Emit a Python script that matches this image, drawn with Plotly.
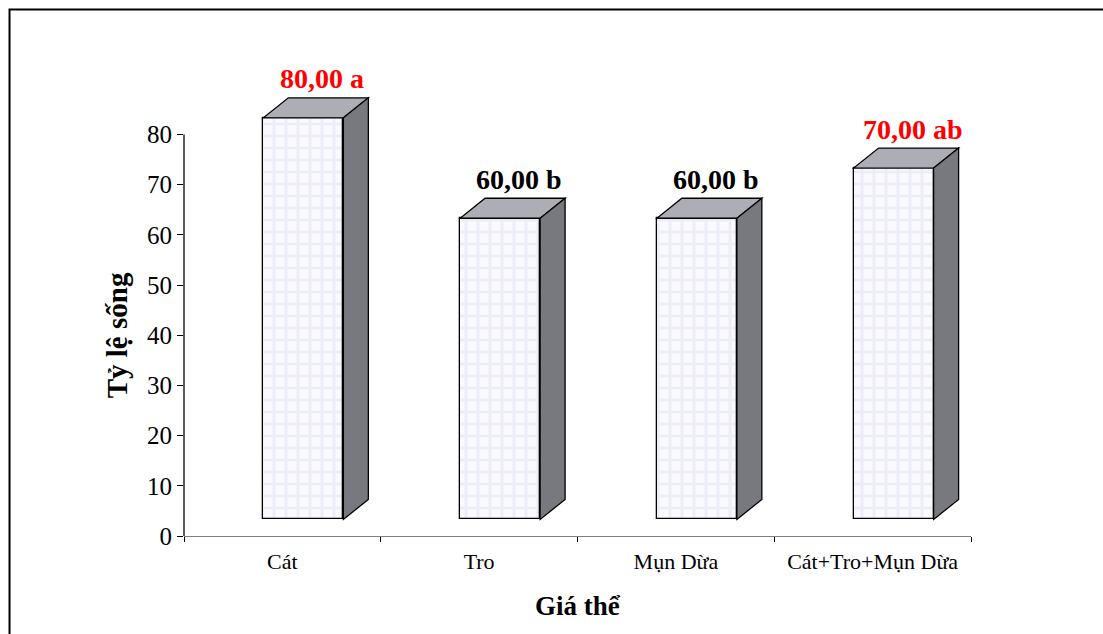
import plotly.graph_objects as go

# Survival rate by growing medium
categories = ["Cát", "Tro", "Mụn Dừa", "Cát+Tro+Mụn Dừa"]
values = [80.0, 60.0, 60.0, 70.0]
letters = ["a", "b", "b", "ab"]
label_colors = ["#ff0000", "#000000", "#000000", "#ff0000"]
y_ticks = [0, 10, 20, 30, 40, 50, 60, 70, 80]

# 3D column geometry (category units / value units)
BASE = 3.3          # front face lifted above the floor
BAR_W = 0.4066      # front face width
BAR_OFF = -0.0966   # front face left edge relative to category centre
DEPTH_X = 0.127     # depth projection to the right
DEPTH_Y = 3.98      # depth projection upwards

FONT = "Liberation Serif"

fig = go.Figure()

fig.add_trace(go.Bar(
    x=categories,
    y=values,
    base=BASE,
    offset=BAR_OFF,
    width=BAR_W,
    marker=dict(
        color="#f7f7ff",
        line=dict(color="#000000", width=1.3),
        pattern=dict(shape="+", fgcolor="#e2e2f4", bgcolor="#f9f9ff",
                     size=12, solidity=0.45),
    ),
    hoverinfo="skip",
    showlegend=False,
))

shapes = []
annotations = []
for i, (v, lab, col) in enumerate(zip(values, letters, label_colors)):
    xl = i + BAR_OFF
    xr = xl + BAR_W
    top = v + BASE
    # top face
    shapes.append(dict(
        type="path", xref="x", yref="y",
        path=(f"M {xl},{top} L {xr},{top} L {xr + DEPTH_X},{top + DEPTH_Y} "
              f"L {xl + DEPTH_X},{top + DEPTH_Y} Z"),
        fillcolor="#adadb5", line=dict(color="#000000", width=1.3),
    ))
    # side face
    shapes.append(dict(
        type="path", xref="x", yref="y",
        path=(f"M {xr},{BASE} L {xr},{top} L {xr + DEPTH_X},{top + DEPTH_Y} "
              f"L {xr + DEPTH_X},{BASE + DEPTH_Y} Z"),
        fillcolor="#78787f", line=dict(color="#000000", width=1.3),
    ))
    annotations.append(dict(
        x=xl + BAR_W / 2, y=top, xref="x", yref="y",
        text=f"{v:.2f}".replace(".", ",") + f" {lab}",
        showarrow=False, xshift=19, yshift=39, yanchor="middle",
        font=dict(family=FONT, size=28, color=col, weight="bold"),
    ))

# vertical value axis line (stops at the top tick)
shapes.append(dict(type="line", xref="paper", yref="y", x0=0, x1=0, y0=0, y1=80,
                   line=dict(color="#000000", width=1.3)))

# outer chart border
shapes.append(dict(type="rect", xref="paper", yref="paper",
                   x0=-0.2217, x1=1.2, y0=-0.25, y1=1.0488,
                   line=dict(color="#000000", width=2), fillcolor="rgba(0,0,0,0)"))

annotations.append(dict(
    text="Tỷ lệ sống", x=-0.085, y=0.4, xref="paper", yref="paper",
    textangle=-90, showarrow=False, xanchor="center", yanchor="middle",
    font=dict(family=FONT, size=29, color="#000000", weight="bold"),
))
annotations.append(dict(
    text="Giá thể", x=0.5, y=-0.14, xref="paper", yref="paper",
    showarrow=False, xanchor="center", yanchor="middle",
    font=dict(family=FONT, size=27, color="#000000", weight="bold"),
))

fig.update_layout(
    width=1103, height=634,
    margin=dict(l=184, r=132, t=34, b=98),
    paper_bgcolor="#ffffff", plot_bgcolor="#ffffff",
    shapes=shapes, annotations=annotations,
    bargap=0,
)
fig.update_xaxes(
    type="category", range=[-0.5, 3.5],
    showline=True, linecolor="#808080", linewidth=1.3,
    ticks="outside", tickson="boundaries", ticklen=5, tickcolor="#000000",
    showgrid=False, zeroline=False,
    tickfont=dict(family=FONT, size=22, color="#000000"),
    ticklabelstandoff=5,
)
fig.update_yaxes(
    range=[0, 100], tickvals=y_ticks,
    showline=False, ticks="outside", ticklen=6, tickcolor="#000000",
    showgrid=False, zeroline=False,
    tickfont=dict(family=FONT, size=25, color="#000000"),
)

fig.write_html("out.html")
